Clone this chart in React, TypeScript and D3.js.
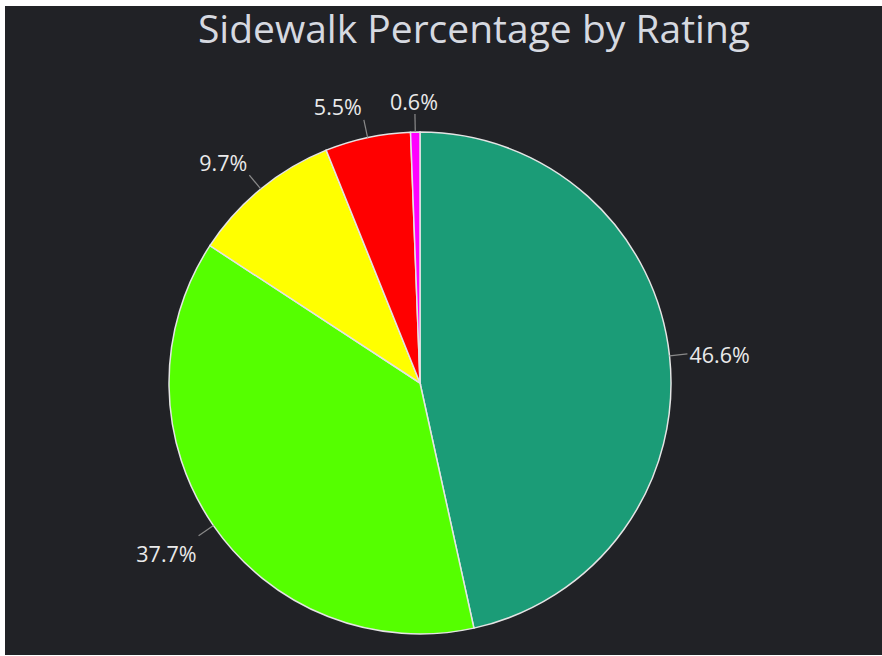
import React, { useEffect, useRef } from 'react';
import * as d3 from 'd3';

// slice order goes clockwise from 12 o'clock
const ratings = ['Good', 'Fair', 'Poor', 'Very Poor', 'Failed'];
const shares = [46.6, 37.7, 9.7, 5.5, 0.6];
const sliceColors = ['#1b9c77', '#55ff00', '#ffff00', '#ff0000', '#ff00ff'];

const W = 882;
const H = 656;

export default function App() {
  const svgRef = useRef<SVGSVGElement>(null);

  useEffect(() => {
    if (!svgRef.current) return;
    const svg = d3.select(svgRef.current);
    svg.selectAll('*').remove();

    // white frame, dark panel
    svg.append('rect').attr('width', W).attr('height', H).attr('fill', '#ffffff');
    svg.append('rect')
      .attr('x', 5).attr('y', 6)
      .attr('width', W - 5).attr('height', H - 7)
      .attr('fill', '#212226');

    svg.append('text')
      .attr('x', 474)
      .attr('y', 43)
      .attr('text-anchor', 'middle')
      .attr('fill', '#d6d9e0')
      .attr('font-family', '"Open Sans", "Noto Sans", sans-serif')
      .attr('font-size', '39px')
      .text('Sidewalk Percentage by Rating');

    const cx = 420;
    const cy = 383;
    const r = 251;

    const data = ratings.map((k, i) => ({ key: k, value: shares[i], color: sliceColors[i] }));
    const pie = d3.pie<typeof data[0]>().sort(null).value(d => d.value);
    const arcs = pie(data);
    const arc = d3.arc<d3.PieArcDatum<typeof data[0]>>().innerRadius(0).outerRadius(r);

    const g = svg.append('g').attr('transform', `translate(${cx},${cy})`);

    g.selectAll('path.slice')
      .data(arcs)
      .join('path')
      .attr('class', 'slice')
      .attr('d', arc)
      .attr('fill', d => d.data.color)
      .attr('stroke', '#e4e4e4')
      .attr('stroke-width', 1.5);

    const fmt = (v: number) => `${v.toFixed(1)}%`;
    const clamp = (v: number) => Math.max(-1, Math.min(1, v));

    arcs.forEach(a => {
      const mid = (a.startAngle + a.endAngle) / 2;
      const s = Math.sin(mid);
      const c = Math.cos(mid);
      const x0 = s * r, y0 = -c * r;
      const x1 = s * (r + 18), y1 = -c * (r + 18);

      g.append('line')
        .attr('x1', x0).attr('y1', y0)
        .attr('x2', x1).attr('y2', y1)
        .attr('stroke', '#8a8a8a')
        .attr('stroke-width', 1.2);

      const t = g.append('text')
        .attr('fill', '#eaeaea')
        .attr('font-family', '"Open Sans", "Noto Sans", sans-serif')
        .attr('font-size', '21.5px')
        .attr('text-anchor', 'middle')
        .attr('dominant-baseline', 'central')
        .text(fmt(a.data.value));
      const bb = (t.node() as SVGTextElement).getBBox();
      const hw = bb.width / 2;
      const hh = 14;
      // labels near the top/bottom stay almost centred on their leader line
      const side = clamp(s * 5) * Math.min(1, Math.abs(s) * 20);
      const dx = hw * side + 2 * clamp(s * 5);
      const dy = -hh * Math.sign(c) * clamp(c * c * 2) + (c < 0 ? 9 : 1);
      t.attr('x', x1 + dx).attr('y', y1 + dy);
    });
  }, []);

  return (
    <div style={{ position: 'absolute', left: 0, top: 0, width: W, height: H }}>
      <svg ref={svgRef} width={W} height={H} style={{ display: 'block' }} />
    </div>
  );
}
